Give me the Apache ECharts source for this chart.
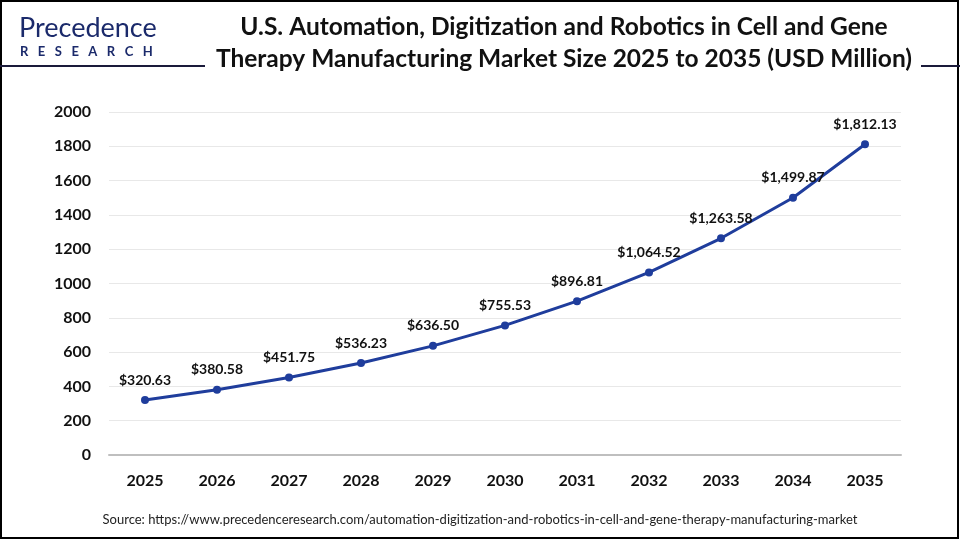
<!DOCTYPE html>
<html>
<head>
<meta charset="utf-8">
<script src="https://cdn.jsdelivr.net/npm/echarts@6/dist/echarts.min.js"></script>
<style>
html,body{margin:0;padding:0;background:#fff;}
#chart{width:960px;height:540px;}
</style>
</head>
<body>
<div id="chart"></div>
<script>
const years = ['2025','2026','2027','2028','2029','2030','2031','2032','2033','2034','2035'];
const marketSize = [320.63, 380.58, 451.75, 536.23, 636.50, 755.53, 896.81, 1064.52, 1263.58, 1499.87, 1812.13];
const yTicks = [0, 200, 400, 600, 800, 1000, 1200, 1400, 1600, 1800, 2000];

const titleText = 'U.S. Automation, Digitization and Robotics in Cell and Gene\nTherapy Manufacturing Market Size 2025 to 2035 (USD Million)';
const sourceText = 'Source: https://www.precedenceresearch.com/automation-digitization-and-robotics-in-cell-and-gene-therapy-manufacturing-market';

const chart = echarts.init(document.getElementById('chart'));
const fmt = v => '$' + v.toLocaleString('en-US', {minimumFractionDigits: 2, maximumFractionDigits: 2});

chart.setOption({
  backgroundColor: '#fff',
  animation: false,
  title: {
    text: titleText,
    left: 559, top: 6, textAlign: 'center',
    textStyle: {fontFamily: 'Lato, sans-serif', fontWeight: 'bold', fontSize: 24.5, lineHeight: 32, color: '#111'}
  },
  grid: {left: 109, right: 59, top: 112, bottom: 85},
  xAxis: {
    type: 'category', data: years, boundaryGap: true,
    axisLine: {lineStyle: {color: '#bfbfbf', width: 2}},
    axisTick: {show: false},
    axisLabel: {color: '#111', fontWeight: 'bold', fontSize: 16, margin: 18, fontFamily: 'Lato, sans-serif'}
  },
  yAxis: {
    type: 'value', min: 0, max: 2000, interval: 200,
    axisLine: {show: false}, axisTick: {show: false},
    splitLine: {lineStyle: {color: '#e8e8e8', width: 1}},
    axisLabel: {color: '#111', fontWeight: 'bold', fontSize: 16, margin: 18, fontFamily: 'Lato, sans-serif',
      formatter: v => yTicks.includes(v) ? String(v) : ''}
  },
  series: [{
    type: 'line', data: marketSize, smooth: false,
    symbol: 'circle', symbolSize: 8,
    lineStyle: {color: '#1f3d9c', width: 3},
    itemStyle: {color: '#1f3d9c'},
    label: {show: true, position: 'top', distance: 9, color: '#111', fontWeight: 'bold', fontSize: 14,
      fontFamily: 'Lato, sans-serif', formatter: p => fmt(p.value)}
  }],
  graphic: [
    {type: 'rect', shape: {x: 1, y: 1, width: 957, height: 537}, style: {fill: 'none', stroke: '#000', lineWidth: 2}, silent: true},
    {type: 'line', shape: {x1: 0, y1: 66, x2: 205, y2: 66}, style: {stroke: '#1a1a3a', lineWidth: 2}},
    {type: 'line', shape: {x1: 921, y1: 66, x2: 960, y2: 66}, style: {stroke: '#1a1a3a', lineWidth: 2}},
    {type: 'text', left: 19, top: 15, style: {text: 'Precedence', fontFamily: 'Lato, sans-serif', fontSize: 27, fontWeight: 'normal', fill: '#1b2a6b'}},
    {type: 'text', left: 20, top: 45, style: {text: 'R   E   S   E   A   R   C   H', fontFamily: 'Lato, sans-serif', fontSize: 13, fontWeight: 'bold', fill: '#1b2a6b'}},
    {type: 'text', left: 'center', top: 513, style: {text: sourceText, fontFamily: 'Lato, sans-serif', fontSize: 13, fill: '#222'}}
  ]
});
</script>
</body>
</html>
